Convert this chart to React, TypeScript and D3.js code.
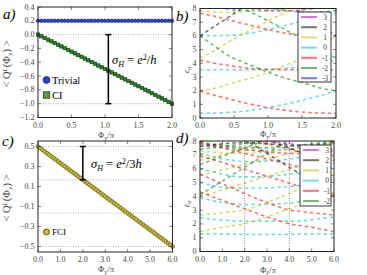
import * as d3 from "d3";

// ---- panel a: polarization, Chern insulator vs trivial ----
const TRIVIAL = [
  0.2, 0.2, 0.2, 0.2, 0.2, 0.2, 0.2, 0.2, 0.2, 0.2, 0.2, 0.2, 0.2, 0.2,
  0.2, 0.2, 0.2, 0.2, 0.2, 0.2, 0.2, 0.2, 0.2, 0.2, 0.2, 0.2, 0.2, 0.2,
  0.2, 0.2, 0.2, 0.2, 0.2, 0.2, 0.2, 0.2, 0.2, 0.2, 0.2, 0.2, 0.2,
];
const CI = [
  0.0, -0.024, -0.048, -0.073, -0.097, -0.122, -0.146, -0.171, -0.196, -0.221,
  -0.246, -0.271, -0.296, -0.321, -0.346, -0.371, -0.396, -0.421, -0.447, -0.472,
  -0.497, -0.522, -0.547, -0.572, -0.597, -0.622, -0.647, -0.672, -0.697, -0.722,
  -0.747, -0.772, -0.797, -0.822, -0.848, -0.873, -0.898, -0.923, -0.949, -0.974,
  -1.0,
];
const PHI_A = d3.range(41).map((i) => i * 0.05);

// ---- panel c: FCI polarization ----
const FCI = [
  0.5, 0.483, 0.467, 0.45, 0.433, 0.417, 0.4, 0.383, 0.367, 0.35,
  0.333, 0.317, 0.3, 0.283, 0.267, 0.25, 0.233, 0.217, 0.2, 0.183,
  0.167, 0.15, 0.133, 0.117, 0.1, 0.083, 0.067, 0.05, 0.033, 0.017,
  0.0, -0.017, -0.033, -0.05, -0.067, -0.083, -0.1, -0.117, -0.133, -0.15,
  -0.167, -0.183, -0.2, -0.217, -0.233, -0.25, -0.267, -0.283, -0.3, -0.317,
  -0.333, -0.35, -0.367, -0.383, -0.4, -0.417, -0.433, -0.45, -0.467, -0.483,
  -0.5,
];
const PHI_C = d3.range(61).map((i) => i * 0.1);

// ---- panel b: entanglement spectrum CI, sampled every 0.2 ----
const PHI_B = d3.range(11).map((i) => i * 0.2);
const B_CYAN = [
  [0.34, 0.36, 0.4, 0.48, 0.6, 0.75, 0.95, 1.17, 1.42, 1.68, 1.95],
  [3.52, 3.52, 3.52, 3.52, 3.53, 3.55, 3.6, 3.7, 3.85, 4.02, 4.22],
  [6.02, 6.02, 6.04, 6.1, 6.25, 6.45, 6.7, 6.95, 7.2, 7.45, 7.65],
  [8.3, 8.1, 7.95, 7.85, 7.82, 7.85, 7.95, 8.1, 8.3, 8.5, 8.7],
];
const B_RED = [
  [1.95, 1.68, 1.42, 1.17, 0.95, 0.75, 0.6, 0.48, 0.4, 0.36, 0.34],
  [4.22, 4.02, 3.85, 3.7, 3.6, 3.55, 3.53, 3.52, 3.52, 3.52, 3.52],
  [7.65, 7.45, 7.2, 6.95, 6.7, 6.45, 6.25, 6.1, 6.04, 6.02, 6.02],
  [8.7, 8.5, 8.3, 8.1, 7.95, 7.85, 7.82, 7.85, 7.95, 8.1, 8.3],
];
const B_YELLOW = [
  [2.0, 2.15, 2.45, 2.72, 3.0, 3.35, 3.75, 4.15, 4.6, 5.3, 6.0],
  [4.4, 4.88, 5.5, 6.05, 6.6, 7.1, 7.6, 8.1, 8.6, 9.1, 9.6],
  [7.85, 7.75, 7.72, 7.78, 7.9, 8.1, 8.4, 8.7, 9.0, 9.3, 9.6],
];
const B_GREEN = [
  [6.0, 5.3, 4.6, 4.15, 3.75, 3.35, 3.0, 2.72, 2.45, 2.15, 2.0],
  [9.6, 9.1, 8.6, 8.1, 7.6, 7.1, 6.6, 6.05, 5.5, 4.88, 4.4],
  [9.6, 9.3, 9.0, 8.7, 8.4, 8.1, 7.9, 7.78, 7.72, 7.75, 7.85],
];
const B_BLACK = [[6.0, 6.66, 7.3, 7.95, 8.6, 9.3, 10, 10.7, 11.4, 12, 12.7]];
const B_BLUE = [[12.7, 12, 11.4, 10.7, 10, 9.3, 8.6, 7.95, 7.3, 6.66, 6.0]];

// ---- panel d: entanglement spectrum FCI, sampled every 0.5 ----
const PHI_D = d3.range(13).map((i) => i * 0.5);
const D_CYAN = [
  [1.28, 1.27, 1.26, 1.25, 1.24, 1.23, 1.23, 1.23, 1.24, 1.25, 1.26, 1.27, 1.28],
  [2.45, 2.35, 2.28, 2.22, 2.2, 2.2, 2.2, 2.2, 2.2, 2.22, 2.3, 2.4, 2.5],
  [3.9, 3.7, 3.55, 3.45, 3.4, 3.4, 3.4, 3.45, 3.5, 3.6, 3.75, 3.9, 4.0],
  [5.0, 4.8, 4.65, 4.6, 4.6, 4.6, 4.6, 4.65, 4.7, 4.8, 4.95, 5.1, 5.2],
  [6.0, 5.8, 5.6, 5.45, 5.4, 5.4, 5.45, 5.5, 5.6, 5.7, 5.85, 6.0, 6.1],
  [7.1, 6.9, 6.7, 6.6, 6.5, 6.5, 6.55, 6.6, 6.7, 6.8, 6.95, 7.1, 7.2],
  [7.7, 7.6, 7.5, 7.4, 7.35, 7.3, 7.3, 7.35, 7.4, 7.5, 7.6, 7.7, 7.8],
];
const D_YELLOW = [
  [1.45, 1.6, 1.75, 1.88, 2.0, 2.25, 2.5, 2.8, 3.1, 3.4, 3.7, 4.0, 4.3],
  [2.65, 2.72, 2.8, 2.9, 3.0, 3.25, 3.55, 3.85, 4.2, 4.55, 4.9, 5.25, 5.6],
  [4.0, 4.2, 4.45, 4.7, 4.95, 5.2, 5.45, 5.7, 5.95, 6.2, 6.45, 6.7, 6.9],
  [5.5, 5.7, 5.9, 6.1, 6.3, 6.5, 6.7, 6.9, 7.1, 7.3, 7.5, 7.7, 7.9],
  [6.6, 6.8, 7.0, 7.2, 7.4, 7.6, 7.8, 8.0, 8.2, 8.4, 8.6, 8.8, 9.0],
  [7.3, 7.2, 7.15, 7.1, 7.1, 7.15, 7.2, 7.3, 7.4, 7.5, 7.6, 7.7, 7.8],
];
const D_RED = [
  [4.3, 4.0, 3.7, 3.4, 3.1, 2.8, 2.5, 2.25, 2.0, 1.88, 1.75, 1.6, 1.45],
  [5.6, 5.25, 4.9, 4.55, 4.2, 3.85, 3.55, 3.25, 3.0, 2.9, 2.8, 2.72, 2.65],
  [6.9, 6.7, 6.45, 6.2, 5.95, 5.7, 5.45, 5.2, 4.95, 4.7, 4.45, 4.2, 4.0],
  [7.9, 7.7, 7.5, 7.3, 7.1, 6.9, 6.7, 6.5, 6.3, 6.1, 5.9, 5.7, 5.5],
  [9.0, 8.8, 8.6, 8.4, 8.2, 8.0, 7.8, 7.6, 7.4, 7.2, 7.0, 6.8, 6.6],
  [7.8, 7.7, 7.6, 7.5, 7.4, 7.3, 7.2, 7.15, 7.1, 7.1, 7.15, 7.2, 7.3],
];
const D_GREEN = [
  [4.1, 4.6, 5.1, 5.6, 6.1, 6.6, 7.1, 7.6, 8.1, 8.6, 9.1, 9.6, 10.1],
  [6.3, 6.6, 6.9, 7.2, 7.5, 7.8, 8.1, 8.4, 8.7, 9.0, 9.3, 9.6, 9.9],
  [7.4, 7.5, 7.6, 7.7, 7.8, 7.9, 8.0, 8.1, 8.2, 8.3, 8.4, 8.5, 8.6],
  [7.95, 7.8, 7.7, 7.6, 7.55, 7.5, 7.5, 7.55, 7.6, 7.7, 7.8, 7.9, 8.0],
];
const D_BLACK = [
  [10.1, 9.6, 9.1, 8.6, 8.1, 7.6, 7.1, 6.6, 6.1, 5.6, 5.1, 4.6, 4.1],
  [9.9, 9.6, 9.3, 9.0, 8.7, 8.4, 8.1, 7.8, 7.5, 7.2, 6.9, 6.6, 6.3],
  [7.6, 7.7, 7.8, 7.85, 7.9, 7.85, 7.8, 7.75, 7.7, 7.65, 7.7, 7.8, 7.9],
];
const D_MAGENTA = [[8.6, 8.5, 8.4, 8.3, 8.2, 8.1, 8.0, 7.9, 7.8, 7.7, 7.6, 7.5, 7.4]];

const SECTORS_B = ["3", "2", "1", "0", "-1", "-2", "-3"];
const SECTORS_D = ["3", "2", "1", "0", "-1", "-2"];
const SECTOR_COLOR: Record<string, string> = {
  "3": "#bf00bf",
  "2": "#000000",
  "1": "#bfbf00",
  "0": "#00bfbf",
  "-1": "#ff0000",
  "-2": "#008000",
  "-3": "#0000ff",
};

const FONT = "'Liberation Serif', 'DejaVu Serif', serif";
const TICK_COLOR = "#444";

type Scale = d3.ScaleLinear<number, number>;

function Frame(props: {
  x: Scale;
  y: Scale;
  xTicks: number[];
  yTicks: number[];
  xFmt: (v: number) => string;
  yFmt: (v: number) => string;
}) {
  const { x, y, xTicks, yTicks, xFmt, yFmt } = props;
  const [x0, x1] = x.range();
  const [y0, y1] = y.range(); // y0 bottom, y1 top
  const t = 3;
  return (
    <g>
      {xTicks.map((v) => (
        <g key={"x" + v}>
          <line x1={x(v)} x2={x(v)} y1={y0} y2={y0 - t} stroke="#333" strokeWidth={0.6} />
          <line x1={x(v)} x2={x(v)} y1={y1} y2={y1 + t} stroke="#333" strokeWidth={0.6} />
          <text x={x(v)} y={y0 + 10} textAnchor="middle" fontSize={8} fill={TICK_COLOR}>
            {xFmt(v)}
          </text>
        </g>
      ))}
      {yTicks.map((v) => (
        <g key={"y" + v}>
          <line x1={x0} x2={x0 + t} y1={y(v)} y2={y(v)} stroke="#333" strokeWidth={0.6} />
          <line x1={x1} x2={x1 - t} y1={y(v)} y2={y(v)} stroke="#333" strokeWidth={0.6} />
          <text x={x0 - 3.5} y={y(v) + 2.6} textAnchor="end" fontSize={8} fill={TICK_COLOR}>
            {yFmt(v)}
          </text>
        </g>
      ))}
      <rect x={x0} y={y1} width={x1 - x0} height={y0 - y1} fill="none" stroke="#222" strokeWidth={1} />
    </g>
  );
}

function PhiLabel(props: { x: number; y: number }) {
  return (
    <text x={props.x} y={props.y} textAnchor="middle" fontSize={8.5} fill={TICK_COLOR}>
      Φ<tspan fontSize={6} dy={1.5}>y</tspan>
      <tspan dy={-1.5}>/π</tspan>
    </text>
  );
}

function QLabel(props: { x: number; y: number }) {
  return (
    <text
      transform={`translate(${props.x},${props.y}) rotate(-90)`}
      textAnchor="middle"
      fontSize={10.5}
      fill={TICK_COLOR}
    >
      {"< Q"}
      <tspan fontSize={7} dy={-3.5}>L</tspan>
      <tspan dy={3.5}>(Φ</tspan>
      <tspan fontSize={7} dy={2}>y</tspan>
      <tspan dy={-2}>{") >"}</tspan>
    </text>
  );
}

function EpsLabel(props: { x: number; y: number }) {
  return (
    <text
      transform={`translate(${props.x},${props.y}) rotate(-90)`}
      textAnchor="middle"
      fontSize={9}
      fontStyle="italic"
      fill={TICK_COLOR}
    >
      ε<tspan fontSize={6} dy={2}>α</tspan>
    </text>
  );
}

function Spectrum(props: {
  id: string;
  x: Scale;
  y: Scale;
  phi: number[];
  groups: [string, number[][]][];
}) {
  const { id, x, y, phi, groups } = props;
  const [x0, x1] = x.range();
  const [y0, y1] = y.range();
  const line = d3
    .line<number>()
    .x((_, i) => x(phi[i]))
    .y((d) => y(d))
    .curve(d3.curveMonotoneX);
  return (
    <g>
      <defs>
        <clipPath id={id}>
          <rect x={x0} y={y1} width={x1 - x0} height={y0 - y1} />
        </clipPath>
      </defs>
      <g clipPath={`url(#${id})`}>
        {groups.map(([sector, levels]) =>
          levels.map((lv, j) => (
            <path
              key={sector + "-" + j}
              d={line(lv) ?? ""}
              fill="none"
              stroke={SECTOR_COLOR[sector]}
              strokeOpacity={0.55}
              strokeWidth={1.6}
              strokeDasharray="3.5,3"
            />
          ))
        )}
      </g>
    </g>
  );
}

function SectorLegend(props: { x: number; y: number; w: number; h: number; sectors: string[]; step: number }) {
  const { x, y, w, h, sectors, step } = props;
  return (
    <g>
      <rect x={x} y={y} width={w} height={h} fill="#fff" stroke="#222" strokeWidth={0.9} />
      {sectors.map((s, i) => {
        const yy = y + 5 + i * step;
        return (
          <g key={s}>
            <line
              x1={x + 3}
              x2={x + 19}
              y1={yy}
              y2={yy}
              stroke={SECTOR_COLOR[s]}
              strokeOpacity={0.55}
              strokeWidth={2}
            />
            <text x={x + 27} y={yy + 2.8} fontSize={7.5} fill={TICK_COLOR} textAnchor="middle">
              {s}
            </text>
          </g>
        );
      })}
    </g>
  );
}

export default function App() {
  const f1 = d3.format(".1f");
  const fInt = d3.format("d");

  // panel a
  const xa = d3.scaleLinear().domain([0, 2]).range([38, 172]);
  const ya = d3.scaleLinear().domain([-1.2, 0.4]).range([117.5, 7]);
  // panel b
  const xb = d3.scaleLinear().domain([0, 2]).range([200, 336]);
  const yb = d3.scaleLinear().domain([0, 8]).range([118, 8.5]);
  // panel c
  const xc = d3.scaleLinear().domain([0, 6]).range([38, 172.5]);
  const yc = d3.scaleLinear().domain([-0.555, 0.555]).range([252, 141]);
  // panel d
  const xd = d3.scaleLinear().domain([0, 6]).range([200, 334]);
  const yd = d3.scaleLinear().domain([0, 8]).range([251.5, 141]);

  const groupsB: [string, number[][]][] = [
    ["0", B_CYAN],
    ["-1", B_RED],
    ["1", B_YELLOW],
    ["-2", B_GREEN],
    ["2", B_BLACK],
    ["-3", B_BLUE],
  ];
  const groupsD: [string, number[][]][] = [
    ["0", D_CYAN],
    ["1", D_YELLOW],
    ["-1", D_RED],
    ["-2", D_GREEN],
    ["2", D_BLACK],
    ["3", D_MAGENTA],
  ];

  const dotted = { stroke: "#999", strokeWidth: 0.8, strokeDasharray: "1,1.5" };

  return (
    <svg
      width={367}
      height={275}
      style={{ position: "absolute", left: 0, top: 0, background: "#fff" }}
      fontFamily={FONT}
    >
      {/* ---------- a ---------- */}
      <text x={3} y={19} fontSize={15} fontStyle="italic">a)</text>
      <line x1={xa(0)} x2={xa(2)} y1={ya(0)} y2={ya(0)} {...dotted} />
      <line x1={xa(0)} x2={xa(2)} y1={ya(-1)} y2={ya(-1)} {...dotted} />
      {PHI_A.map((p, i) => (
        <rect
          key={"ci" + i}
          x={xa(p) - 1.7}
          y={ya(CI[i]) - 1.7}
          width={3.4}
          height={3.4}
          fill="#2f7f2f"
          stroke="#0c3a0c"
          strokeWidth={0.6}
        />
      ))}
      {PHI_A.map((p, i) => (
        <circle key={"tr" + i} cx={xa(p)} cy={ya(TRIVIAL[i])} r={1.8} fill="#2646d8" stroke="#101a60" strokeWidth={0.6} />
      ))}
      <g stroke="#000" strokeWidth={1.5}>
        <line x1={xa(1.05)} x2={xa(1.05)} y1={ya(0)} y2={ya(-1)} />
        <line x1={xa(1.05) - 3} x2={xa(1.05) + 3} y1={ya(0)} y2={ya(0)} />
        <line x1={xa(1.05) - 3} x2={xa(1.05) + 3} y1={ya(-1)} y2={ya(-1)} />
      </g>
      <text x={112} y={64} fontSize={12.5} fontStyle="italic">
        σ<tspan fontSize={8} dy={2.5}>H</tspan>
        <tspan dy={-2.5} fontStyle="normal"> = </tspan>e
        <tspan fontSize={8} dy={-4.5} fontStyle="normal">2</tspan>
        <tspan dy={4.5} fontStyle="normal">/</tspan>h
      </text>
      <circle cx={46.5} cy={80} r={3.4} fill="#2646d8" stroke="#101a60" strokeWidth={0.8} />
      <text x={52} y={83.5} fontSize={10.5}>Trivial</text>
      <rect x={43.3} y={91.8} width={6.4} height={6.4} fill="#5f9a3a" stroke="#1a3a0a" strokeWidth={0.8} />
      <text x={52} y={98.5} fontSize={10.5}>CI</text>
      <Frame x={xa} y={ya} xTicks={[0, 0.5, 1, 1.5, 2]} yTicks={[0.4, 0.2, 0, -0.2, -0.4, -0.6, -0.8, -1.0, -1.2]} xFmt={f1} yFmt={f1} />
      <QLabel x={10} y={64} />
      <PhiLabel x={106} y={138} />

      {/* ---------- b ---------- */}
      <text x={176} y={21} fontSize={15} fontStyle="italic">b)</text>
      <Spectrum id="clipb" x={xb} y={yb} phi={PHI_B} groups={groupsB} />
      <SectorLegend x={298} y={12} w={33} h={70} sectors={SECTORS_B} step={10.2} />
      <Frame x={xb} y={yb} xTicks={[0, 0.5, 1, 1.5, 2]} yTicks={[0, 1, 2, 3, 4, 5, 6, 7, 8]} xFmt={f1} yFmt={fInt} />
      <EpsLabel x={189} y={70} />
      <PhiLabel x={268} y={137} />

      {/* ---------- c ---------- */}
      <text x={2} y={146} fontSize={15} fontStyle="italic">c)</text>
      {[0.5, 1 / 6, -1 / 6, -0.5].map((v) => (
        <line key={"hc" + v} x1={xc(0)} x2={xc(6)} y1={yc(v)} y2={yc(v)} {...dotted} />
      ))}
      {PHI_C.map((p, i) => (
        <circle key={"fci" + i} cx={xc(p)} cy={yc(FCI[i])} r={2} fill="#c9c12a" stroke="#3a3510" strokeWidth={0.5} />
      ))}
      <g stroke="#000" strokeWidth={1.5}>
        <line x1={xc(2)} x2={xc(2)} y1={yc(0.5)} y2={yc(1 / 6)} />
        <line x1={xc(2) - 3} x2={xc(2) + 3} y1={yc(0.5)} y2={yc(0.5)} />
        <line x1={xc(2) - 3} x2={xc(2) + 3} y1={yc(1 / 6)} y2={yc(1 / 6)} />
      </g>
      <text x={91} y={168} fontSize={12.5} fontStyle="italic">
        σ<tspan fontSize={8} dy={2.5}>H</tspan>
        <tspan dy={-2.5} fontStyle="normal"> = </tspan>e
        <tspan fontSize={8} dy={-4.5} fontStyle="normal">2</tspan>
        <tspan dy={4.5} fontStyle="normal">/3</tspan>h
      </text>
      <circle cx={46.5} cy={232} r={3} fill="#c9c12a" stroke="#3a3510" strokeWidth={0.8} />
      <text x={52} y={235} fontSize={9}>FCI</text>
      <Frame x={xc} y={yc} xTicks={[0, 1, 2, 3, 4, 5, 6]} yTicks={[0.5, 0.3, 0.1, -0.1, -0.3, -0.5]} xFmt={f1} yFmt={f1} />
      <QLabel x={10} y={198} />
      <PhiLabel x={106} y={272} />

      {/* ---------- d ---------- */}
      <text x={176} y={143} fontSize={15} fontStyle="italic">d)</text>
      <Spectrum id="clipd" x={xd} y={yd} phi={PHI_D} groups={groupsD} />
      {[2, 4].map((v) => (
        <line key={"vd" + v} x1={xd(v)} x2={xd(v)} y1={yd(0)} y2={yd(8)} stroke="#666" strokeWidth={0.8} strokeDasharray="1,1.5" />
      ))}
      <SectorLegend x={300} y={145} w={31} h={61} sectors={SECTORS_D} step={10.2} />
      <Frame x={xd} y={yd} xTicks={[0, 1, 2, 3, 4, 5, 6]} yTicks={[0, 1, 2, 3, 4, 5, 6, 7, 8]} xFmt={f1} yFmt={fInt} />
      <EpsLabel x={189} y={204} />
      <PhiLabel x={268} y={272.5} />
    </svg>
  );
}
